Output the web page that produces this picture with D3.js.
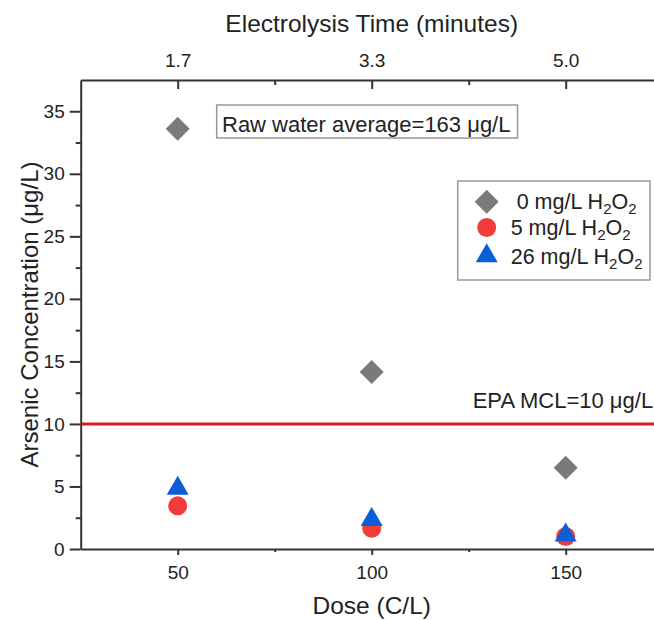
<!DOCTYPE html>
<html><head><meta charset="utf-8">
<script src="https://cdn.jsdelivr.net/npm/d3@7"></script>
<style>
body{margin:0;background:#fff;}
text{font-family:"Liberation Sans",Arial,sans-serif;fill:#222;}
</style></head>
<body><svg id="c" width="654" height="620"></svg>
<script>
// ---- data ----
const doses = [50, 100, 150];
const timeLabels = ["1.7", "3.3", "5.0"];
const seriesNames = ["0", "5", "26"];
const h2o2_0 = [33.6, 14.15, 6.5];
const h2o2_5 = [3.45, 1.65, 1.0];
const h2o2_26 = [4.85, 2.35, 1.1];
const yTicks = [0, 5, 10, 15, 20, 25, 30, 35];
const yMinor = [2.5, 7.5, 12.5, 17.5, 22.5, 27.5, 32.5];
const xMinor = [75, 125];
const mcl = 10;
const rawWaterText = "Raw water average=163 \u03BCg/L";
const epaText = "EPA MCL=10 \u03BCg/L";

const svg = d3.select("#c");
const L = 80.7, R = 662.7, T = 80, B = 549;
const x = d3.scaleLinear().domain([25, 175]).range([L, R]);
const y = d3.scaleLinear().domain([0, 37.5]).range([B, T]);
const axisColor = "#333";

// red MCL line
svg.append("line").attr("x1", x(25)).attr("x2", x(175))
  .attr("y1", y(mcl)).attr("y2", y(mcl))
  .attr("stroke", "#dd1c24").attr("stroke-width", 3);

function styleAxis(g){
  g.selectAll("path,line").attr("stroke", axisColor).attr("stroke-width", 2);
  g.selectAll("text").attr("fill", "#222").style("font-family", '"Liberation Sans",Arial,sans-serif');
}

// bottom axis
const gB = svg.append("g").attr("transform", `translate(0,${B})`)
  .call(d3.axisBottom(x).tickValues(doses).tickSize(6).tickSizeOuter(0).tickPadding(10.5).tickFormat(d3.format("d")));
gB.selectAll("text").attr("font-size", 19);
styleAxis(gB);
const gBm = svg.append("g").attr("transform", `translate(0,${B})`)
  .call(d3.axisBottom(x).tickValues(xMinor).tickSize(3).tickFormat(""));
gBm.select(".domain").remove(); styleAxis(gBm);

// top axis (ticks pointing down)
const gT = svg.append("g").attr("transform", `translate(0,${T})`)
  .call(d3.axisTop(x).tickValues(doses).tickSize(-9).tickSizeOuter(0).tickPadding(13.5)
    .tickFormat((d, i) => timeLabels[i]));
gT.selectAll("text").attr("font-size", 19);
styleAxis(gT);
const gTm = svg.append("g").attr("transform", `translate(0,${T})`)
  .call(d3.axisTop(x).tickValues(xMinor).tickSize(-5).tickFormat(""));
gTm.select(".domain").remove(); styleAxis(gTm);

// left axis
const gL = svg.append("g").attr("transform", `translate(${L},0)`)
  .call(d3.axisLeft(y).tickValues(yTicks).tickSize(11).tickSizeOuter(0).tickPadding(5).tickFormat(d3.format("d")));
gL.selectAll("text").attr("font-size", 19);
styleAxis(gL);
const gLm = svg.append("g").attr("transform", `translate(${L},0)`)
  .call(d3.axisLeft(y).tickValues(yMinor).tickSize(5).tickFormat(""));
gLm.select(".domain").remove(); styleAxis(gLm);

// axis titles
svg.append("text").attr("x", (L + R) / 2).attr("y", 614).attr("text-anchor", "middle")
  .attr("font-size", 24.5).text("Dose (C/L)");
svg.append("text").attr("x", (L + R) / 2).attr("y", 32.3).attr("text-anchor", "middle")
  .attr("font-size", 24.5).text("Electrolysis Time (minutes)");
svg.append("text").attr("transform", `translate(37.5,${(T + B) / 2}) rotate(-90)`)
  .attr("text-anchor", "middle").attr("font-size", 24).text("Arsenic Concentration (\u03BCg/L)");

// markers
const diamond = d3.symbol().type(d3.symbolSquare).size(289);
const circle = d3.symbol().type(d3.symbolCircle).size(283);
const tri = d3.symbol().type(d3.symbolTriangle).size(210);
const series = [
  {vals: h2o2_0, sym: diamond, color: "#7a7a7a", rot: 45},
  {vals: h2o2_5, sym: circle, color: "#f23c3c", rot: 0},
  {vals: h2o2_26, sym: tri, color: "#0b5ed7", rot: 0}
];
series.forEach(s => {
  svg.append("g").selectAll("path").data(s.vals).join("path")
    .attr("d", s.sym)
    .attr("transform", (d, i) => `translate(${x(doses[i])},${y(d)}) rotate(${s.rot})`)
    .attr("fill", s.color);
});

// raw water annotation
svg.append("rect").attr("x", 216.7).attr("y", 105).attr("width", 300.8).attr("height", 33)
  .attr("fill", "#fff").attr("stroke", "#999").attr("stroke-width", 1.5);
svg.append("text").attr("x", 222).attr("y", 131.5).attr("font-size", 22).text(rawWaterText);

// EPA label
svg.append("text").attr("x", 472.7).attr("y", 408).attr("font-size", 22).text(epaText);

// legend
svg.append("rect").attr("x", 457.7).attr("y", 181).attr("width", 192.3).attr("height", 99)
  .attr("fill", "#fff").attr("stroke", "#999").attr("stroke-width", 1.5);
const legY = [201.7, 227.5, 256];
const legTx = [516.7, 510.7, 510.7];
series.forEach((s, i) => {
  svg.append("path").attr("d", s.sym)
    .attr("transform", `translate(486.7,${legY[i]}) rotate(${s.rot})`).attr("fill", s.color);
  const t = svg.append("text").attr("x", legTx[i]).attr("y", legY[i] + 7.5).attr("font-size", 21.5);
  t.append("tspan").text(seriesNames[i] + " mg/L H");
  t.append("tspan").attr("font-size", 15).attr("dy", 5).text("2");
  t.append("tspan").attr("dy", -5).text("O");
  t.append("tspan").attr("font-size", 15).attr("dy", 5).text("2");
});
</script></body></html>
